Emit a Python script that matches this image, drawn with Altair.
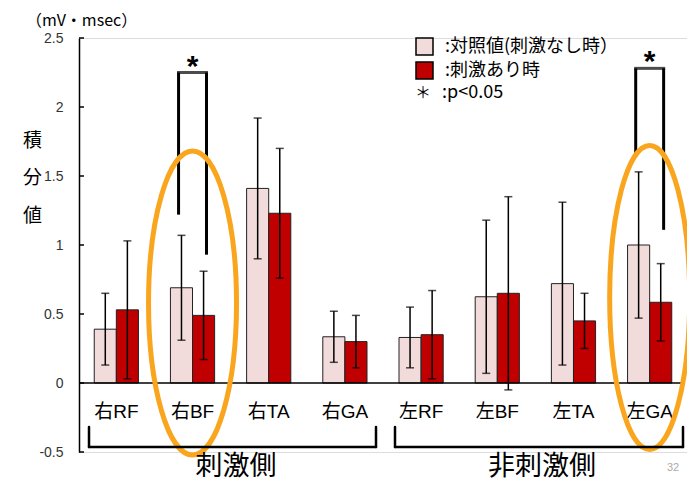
import altair as alt
import pandas as pd

# ---- data ----
cats = ["右RF", "右BF", "右TA", "右GA", "左RF", "左BF", "左TA", "左GA"]
conds = ["対照値(刺激なし時）", "刺激あり時"]
ctrl = [0.39, 0.69, 1.41, 0.335, 0.33, 0.625, 0.72, 1.00]
ctrl_err = [0.26, 0.38, 0.51, 0.185, 0.22, 0.555, 0.59, 0.53]
stim = [0.53, 0.49, 1.23, 0.30, 0.35, 0.65, 0.45, 0.585]
stim_err = [0.50, 0.32, 0.47, 0.19, 0.32, 0.70, 0.20, 0.28]
y_ticks = [-0.5, 0, 0.5, 1, 1.5, 2, 2.5]

sig_cats = ["右BF", "左GA"]
sig_top = [2.25, 2.28]
sig_left = [1.22, 1.65]
sig_right = [0.93, 1.11]

ell_cats = ["右BF", "左GA"]
ell_mid = [0.58, 0.62]

FONT = "Liberation Sans, Noto Sans CJK JP, sans-serif"
JP = "Noto Sans CJK JP, Liberation Sans, sans-serif"
W, H = 608, 414
ORANGE = "#F9A61E"

rows = []
for i, c in enumerate(cats):
    rows.append({"cat": c, "cond": conds[0], "value": ctrl[i],
                 "lo": ctrl[i] - ctrl_err[i], "hi": ctrl[i] + ctrl_err[i]})
    rows.append({"cat": c, "cond": conds[1], "value": stim[i],
                 "lo": stim[i] - stim_err[i], "hi": stim[i] + stim_err[i]})
df = pd.DataFrame(rows)
df_sig = pd.DataFrame({"cat": sig_cats, "top": sig_top, "left": sig_left, "right": sig_right})
df_sig_v = pd.concat([
    pd.DataFrame({"cat": sig_cats, "side": "L", "low": sig_left, "top": sig_top}),
    pd.DataFrame({"cat": sig_cats, "side": "R", "low": sig_right, "top": sig_top}),
])
df_cat = pd.DataFrame({"cat": cats})
df_one = pd.DataFrame({"k": [0]})
df_ticks = pd.DataFrame({"t": y_ticks})

xs = alt.Scale(domain=cats, paddingInner=0.42, paddingOuter=0.2)
X = alt.X("cat:N", sort=cats, scale=xs, axis=None)
XO = alt.XOffset("cond:N", sort=conds, scale=alt.Scale(domain=conds, paddingInner=0, paddingOuter=0))
XO_SIG = alt.XOffset("side:N", sort=["L", "R"],
                     scale=alt.Scale(domain=["L", "R"], paddingInner=0.418, paddingOuter=0))
ys = alt.Scale(domain=[-0.5, 2.5], nice=False, zero=False)
AX = alt.Axis(
    values=y_ticks, tickSize=0, labelPadding=16, labelFontSize=14,
    labelColor="#333", labelFont=FONT, labelExpr="datum.value + ''",
    domainColor="black", domainWidth=1.5, grid=False,
    title=["積", "分", "値"], titleAngle=0, titleFontSize=19,
    titleFontWeight="normal", titleFont=JP, titleColor="black",
    titleLineHeight=37.5, titleX=-47, titleY=102,
    titleAlign="center", titleBaseline="middle")


def Y(field):
    return alt.Y(field, scale=ys, axis=AX)


bars = alt.Chart(df).mark_bar(stroke="#222", strokeWidth=1).encode(
    x=X, xOffset=XO,
    y=Y("value:Q"),
    y2=alt.datum(0),
    fill=alt.Fill("cond:N", sort=conds,
                  scale=alt.Scale(domain=conds, range=["#F2DCDB", "#C00000"]),
                  legend=alt.Legend(orient="none", legendX=336, legendY=-1, title=None,
                                    symbolType="square", symbolSize=289,
                                    symbolStrokeColor="black", symbolStrokeWidth=1.5,
                                    labelFontSize=18, labelFont=JP, labelColor="black",
                                    labelExpr="':' + datum.label", labelOffset=11,
                                    labelLimit=400, rowPadding=1)),
)

err = alt.Chart(df).mark_rule(color="black", strokeWidth=1.5).encode(
    x=X, xOffset=XO, y=Y("lo:Q"), y2="hi:Q")

caps = alt.Chart(df).transform_fold(["lo", "hi"], as_=["k", "v"]).mark_tick(
    color="black", size=8, thickness=1.5).encode(
    x=X, xOffset=XO, y=Y("v:Q"))

zero = alt.Chart(df_one).mark_rule(color="black", strokeWidth=1.5).encode(
    y=alt.datum(0), x=alt.value(0), x2=alt.value(604))

ticks = alt.Chart(df_ticks).mark_rule(color="black", strokeWidth=1.5).encode(
    y=Y("t:Q"), x=alt.value(0), x2=alt.value(5))

xlabels = alt.Chart(df_cat).mark_text(fontSize=19, font=FONT, baseline="middle",
                                      color="black").encode(
    x=X, y=alt.value(374), text="cat:N")

sig_v = alt.Chart(df_sig_v).mark_rule(color="black", strokeWidth=3).encode(
    x=X, xOffset=XO_SIG, y=Y("low:Q"), y2="top:Q")
sig_h = alt.Chart(df_sig).mark_tick(color="black", size=31, thickness=3).encode(
    x=X, y=Y("top:Q"))
sig_star = alt.Chart(df_sig).mark_text(text="*", fontSize=30, fontWeight="bold",
                                       font=FONT, baseline="alphabetic", dy=3,
                                       color="black").encode(
    x=X, y=Y("top:Q"))


def ellipse_path(rx):
    k = 0.5523
    a = k * rx
    return (f"M 0 -1 C {a:.4f} -1 {rx:.4f} -{k} {rx:.4f} 0 "
            f"C {rx:.4f} {k} {a:.4f} 1 0 1 "
            f"C -{a:.4f} 1 -{rx:.4f} {k} -{rx:.4f} 0 "
            f"C -{rx:.4f} -{k} -{a:.4f} -1 0 -1 Z")


df_e1 = pd.DataFrame({"cat": ell_cats[:1], "mid": ell_mid[:1]})
df_e2 = pd.DataFrame({"cat": ell_cats[1:], "mid": ell_mid[1:]})
ell1 = alt.Chart(df_e1).mark_point(shape=ellipse_path(44 / 152), size=304 ** 2, filled=False,
                                   stroke=ORANGE, strokeWidth=5, opacity=1).encode(
    x=X, y=Y("mid:Q"))
ell2 = alt.Chart(df_e2).mark_point(shape=ellipse_path(40 / 152), size=304 ** 2, filled=False,
                                   stroke=ORANGE, strokeWidth=5, opacity=1).encode(
    x=X, y=Y("mid:Q"))


def rule(x1, x2, y1, y2):
    return alt.Chart(df_one).mark_rule(color="black", strokeWidth=2.5, strokeCap="round").encode(
        x=alt.value(x1), x2=alt.value(x2), y=alt.value(y1), y2=alt.value(y2))


brackets = [
    rule(10, 297, 409, 409), rule(10, 10, 389, 409), rule(297, 297, 389, 409),
    rule(316, 604, 409, 409), rule(316, 316, 389, 409), rule(604, 604, 389, 409),
]


def label(txt, x, y, size, font=JP, color="black", align="center", weight="normal"):
    return alt.Chart(df_one).mark_text(text=txt, fontSize=size, font=font, color=color,
                                       align=align, baseline="middle", fontWeight=weight).encode(
        x=alt.value(x), y=alt.value(y))


texts = [
    label("刺激側", 157, 429, 27),
    label("非刺激側", 463, 429, 27),
    label("（mV・msec）", -53, -17, 16, align="left"),
    label("＊", 344, 55, 16),
    label(":p<0.05", 363, 55, 18, align="left"),
    label("32", 594, 430, 11, font=FONT, color="#AAAAAA"),
]

chart = alt.layer(
    bars, err, caps, zero, ticks, xlabels, sig_v, sig_h, sig_star, ell1, ell2,
    *brackets, *texts
).resolve_scale(
    xOffset="independent"
).properties(
    width=W, height=H,
    autosize=alt.AutoSizeParams(type="none"),
    padding={"left": 71, "top": 30, "right": 0, "bottom": 38},
).configure_view(stroke=None).configure(background="white")

chart.save("out.html", embed_options={"renderer": "svg", "actions": False})
